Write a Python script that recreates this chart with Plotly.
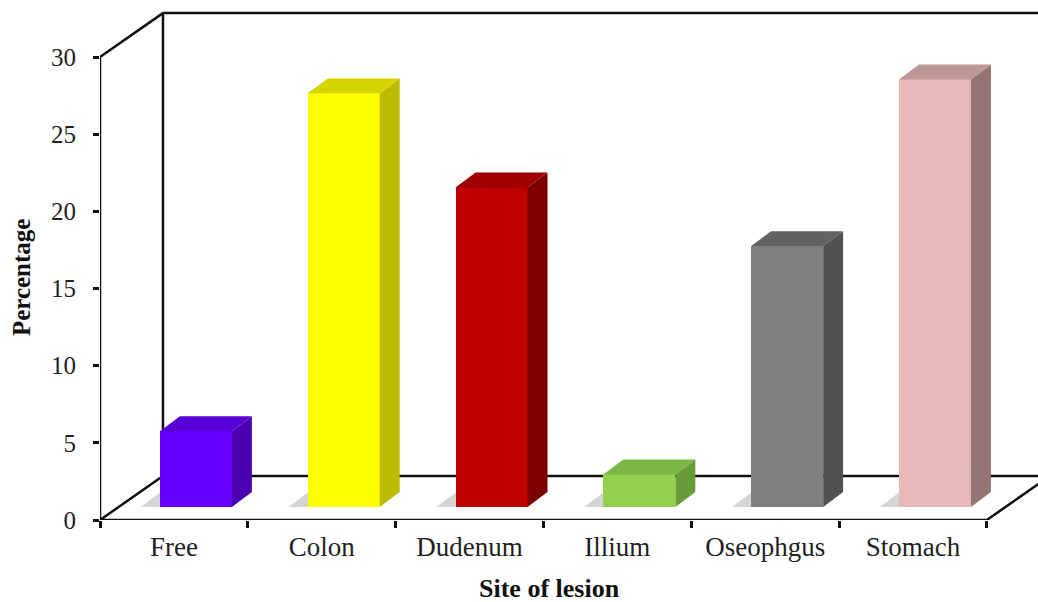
import plotly.graph_objects as go

# Percentage of lesions by site
categories = ["Free", "Colon", "Dudenum", "Illium", "Oseophgus", "Stomach"]
percentages = [4.9, 26.8, 20.7, 2.1, 16.9, 27.7]
front_colors = ["#6600FF", "#FFFF00", "#C00000", "#92D050", "#7F7F7F", "#E6B9B8"]
side_colors = ["#4A00B0", "#BCBC00", "#7C0000", "#689C38", "#515151", "#957474"]
top_colors = ["#5800D6", "#D4D400", "#9E0000", "#7CB643", "#626262", "#BE9897"]
y_ticks = [0, 5, 10, 15, 20, 25, 30]

# Oblique projection of the depth direction, expressed in data units
FLOOR_DX, FLOOR_DY = 0.426, 2.85      # full depth of the floor / walls
BAR_SHIFT_X, BAR_BASE = 0.149, 0.85   # front faces sit part way into the floor
BAR_DX, BAR_DY = 0.135, 0.97          # depth of each bar
BAR_W = 0.487
Y_TOP = 30
X_LEFT, X_RIGHT = -0.5, len(categories) - 0.5

FONT = "Liberation Serif, Times New Roman, serif"
LINE = dict(color="#111111", width=2.5)

fig = go.Figure()

# Front faces of the bars
fig.add_trace(go.Bar(
    x=[i + BAR_SHIFT_X for i in range(len(categories))],
    y=percentages,
    base=BAR_BASE,
    width=BAR_W,
    marker=dict(color=front_colors, line=dict(width=0)),
    hoverinfo="skip",
    showlegend=False,
))

# Side and top faces give each bar its depth
for i, (v, sc, tc) in enumerate(zip(percentages, side_colors, top_colors)):
    xl = i + BAR_SHIFT_X - BAR_W / 2
    xr = i + BAR_SHIFT_X + BAR_W / 2
    b = BAR_BASE
    t = BAR_BASE + v
    fig.add_trace(go.Scatter(
        x=[xr, xr + BAR_DX, xr + BAR_DX, xr, xr],
        y=[b, b + BAR_DY, t + BAR_DY, t, b],
        fill="toself", fillcolor=sc, mode="lines", line=dict(width=0),
        hoverinfo="skip", showlegend=False,
    ))
    fig.add_trace(go.Scatter(
        x=[xl, xr, xr + BAR_DX, xl + BAR_DX, xl],
        y=[t, t, t + BAR_DY, t + BAR_DY, t],
        fill="toself", fillcolor=tc, mode="lines", line=dict(width=0),
        hoverinfo="skip", showlegend=False,
    ))

shapes = []
# Floor
shapes.append(dict(
    type="path", xref="x", yref="y", layer="below",
    path=(f"M {X_LEFT},0 L {X_RIGHT},0 L {X_RIGHT + FLOOR_DX},{FLOOR_DY} "
          f"L {X_LEFT + FLOOR_DX},{FLOOR_DY} Z"),
    fillcolor="white", line=LINE,
))
# Soft shadows cast on the floor
for i in range(len(categories)):
    xl = i + BAR_SHIFT_X - BAR_W / 2
    shapes.append(dict(
        type="path", xref="x", yref="y", layer="below",
        path=(f"M {xl},{BAR_BASE} L {xl - 0.13},{BAR_BASE} "
              f"L {xl - 0.13 + BAR_DX},{BAR_BASE + BAR_DY} L {xl + BAR_DX},{BAR_BASE + BAR_DY} Z"),
        fillcolor="rgba(0,0,0,0.17)", line=dict(width=0),
    ))
# Front value axis, back wall edges
shapes.append(dict(
    type="path", xref="x", yref="y", layer="below",
    path=(f"M {X_LEFT},0 L {X_LEFT},{Y_TOP} L {X_LEFT + FLOOR_DX},{Y_TOP + FLOOR_DY} "
          f"L {X_RIGHT + 2},{Y_TOP + FLOOR_DY}"),
    line=LINE,
))
shapes.append(dict(
    type="line", xref="x", yref="y", layer="below",
    x0=X_LEFT + FLOOR_DX, y0=FLOOR_DY, x1=X_LEFT + FLOOR_DX, y1=Y_TOP + FLOOR_DY,
    line=LINE,
))

annotations = [
    dict(text="<b>Percentage</b>", textangle=-90, xref="paper", yref="y",
         x=-0.083, y=15.75, xanchor="center", yanchor="middle", showarrow=False,
         font=dict(family=FONT, size=25, color="#111111")),
    dict(text="<b>Site of lesion</b>", xref="x", yref="paper",
         x=2.54, y=-0.131, xanchor="center", yanchor="middle", showarrow=False,
         font=dict(family=FONT, size=26, color="#111111")),
]

fig.update_layout(
    width=1038, height=602, autosize=False,
    margin=dict(l=100, r=0, t=0, b=82, pad=0),
    paper_bgcolor="white", plot_bgcolor="white",
    bargap=0, shapes=shapes, annotations=annotations,
    xaxis=dict(
        range=[X_LEFT, 5.846], showgrid=False, zeroline=False, showline=False,
        tickmode="array", tickvals=list(range(len(categories))), ticktext=categories,
        ticks="", tickfont=dict(family=FONT, size=27, color="#222222"),
        ticklabelstandoff=8,
        minor=dict(tickmode="array", tickvals=[k - 0.5 for k in range(len(categories) + 1)],
                   ticks="outside", ticklen=7, tickwidth=2.5, tickcolor="#111111"),
        fixedrange=True,
    ),
    yaxis=dict(
        range=[0, 33.70], showgrid=False, zeroline=False, showline=False,
        tickmode="array", tickvals=y_ticks, ticks="outside", ticklen=6,
        tickwidth=2.5, tickcolor="#111111",
        tickfont=dict(family=FONT, size=25, color="#222222"),
        ticklabelstandoff=12, fixedrange=True,
    ),
)

fig.write_html("out.html")
